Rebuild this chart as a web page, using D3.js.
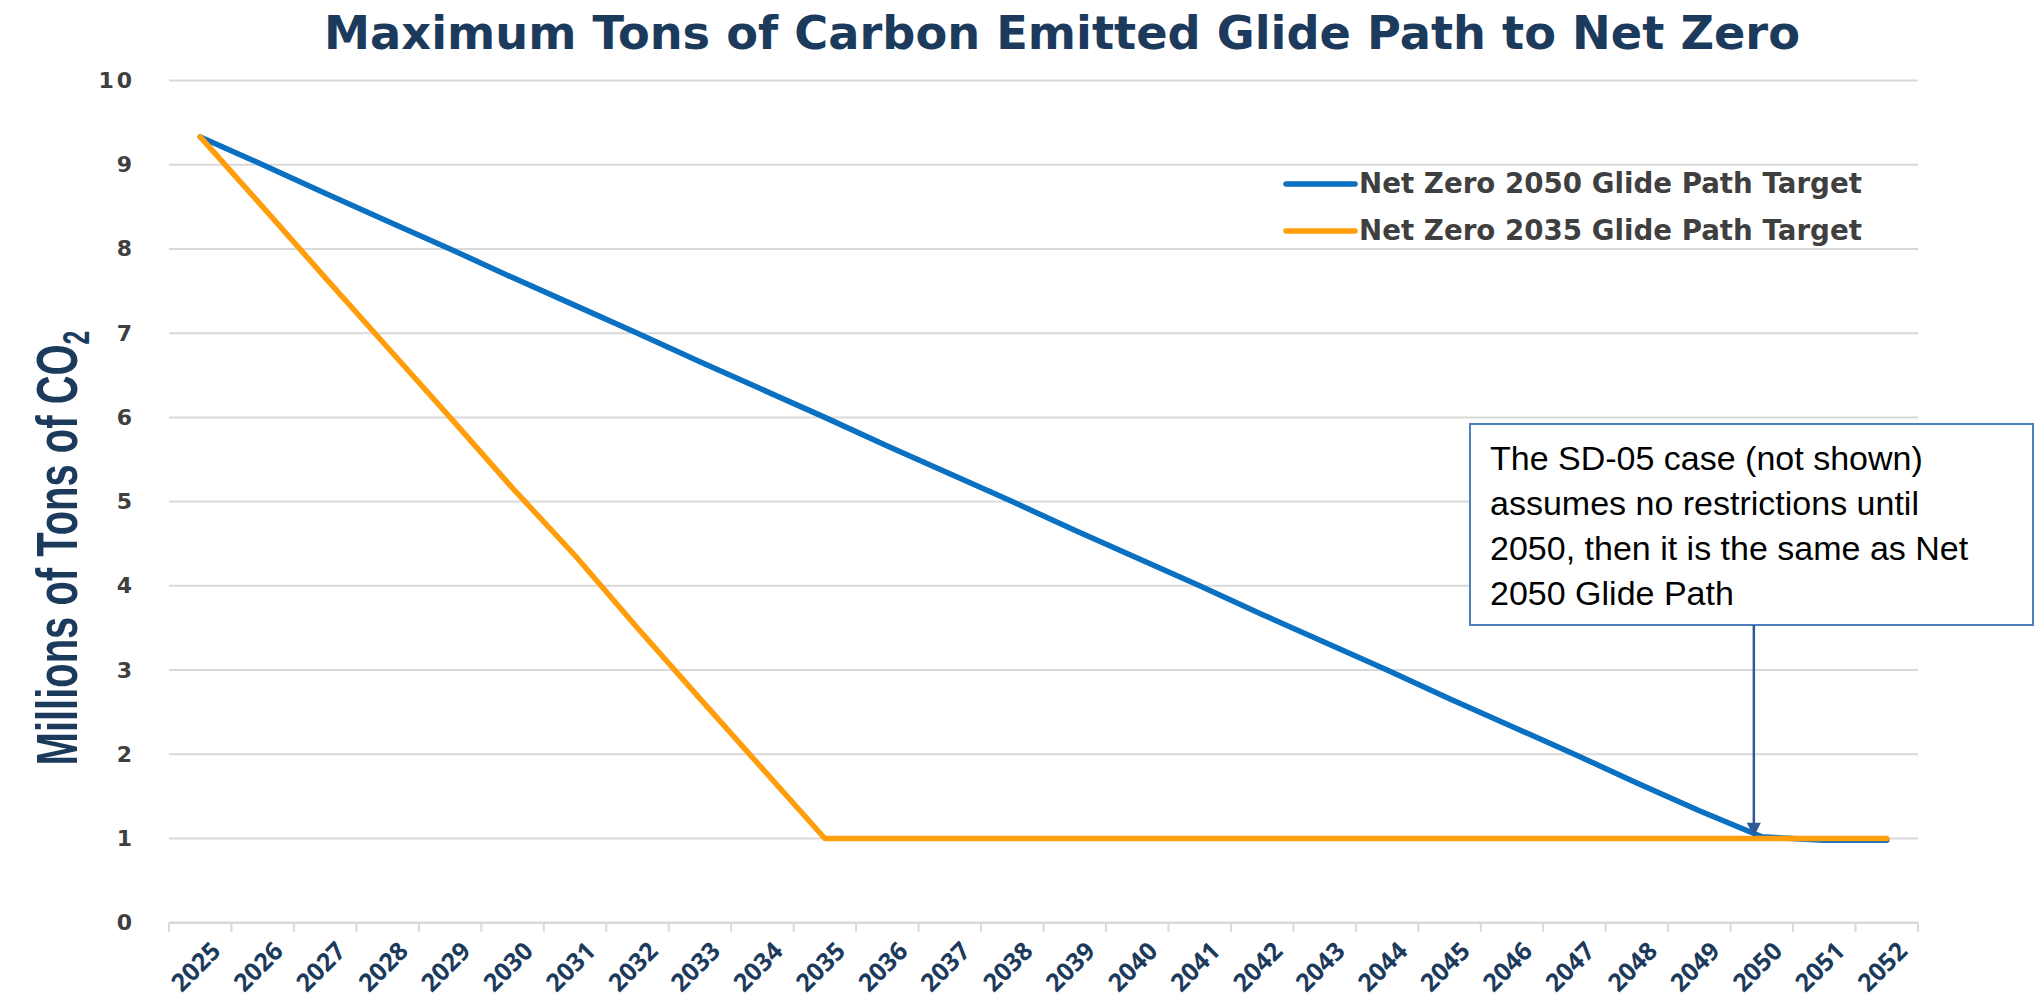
<!DOCTYPE html>
<html>
<head>
<meta charset="utf-8">
<script src="https://cdn.jsdelivr.net/npm/d3@7"></script>
<style>
  html, body { margin: 0; padding: 0; background: #fff; }
  svg { display: block; }
</style>
</head>
<body>
<svg id="chart" width="2035" height="1000"></svg>
<script>
// Years on the x axis
const years = ["2025","2026","2027","2028","2029","2030","2031","2032","2033","2034",
  "2035","2036","2037","2038","2039","2040","2041","2042","2043","2044",
  "2045","2046","2047","2048","2049","2050","2051","2052"];

// Millions of tons of CO2, per year
const netZero2050 = [9.33, 9.0, 8.66, 8.33, 8.0, 7.66, 7.33, 7.0, 6.66, 6.33,
  6.0, 5.66, 5.33, 5.0, 4.66, 4.33, 4.0, 3.66, 3.33, 3.0,
  2.66, 2.33, 2.0, 1.66, 1.33, 1.02, 0.98, 0.98];
const netZero2035 = [9.33, 8.5, 7.66, 6.83, 6.0, 5.16, 4.36, 3.5, 2.66, 1.83,
  1.0, 1.0, 1.0, 1.0, 1.0, 1.0, 1.0, 1.0, 1.0, 1.0,
  1.0, 1.0, 1.0, 1.0, 1.0, 1.0, 1.0, 1.0];

const yTicks = [0, 1, 2, 3, 4, 5, 6, 7, 8, 9, 10];

const seriesNames = ["Net Zero 2050 Glide Path Target", "Net Zero 2035 Glide Path Target"];
const seriesColors = ["#0a70c2", "#ff9e0a"];

const titleText = "Maximum Tons of Carbon Emitted Glide Path to Net Zero";
const noteLines = ["The SD-05 case (not shown)", "assumes no restrictions until",
  "2050, then it is the same as Net", "2050 Glide Path"];

const svg = d3.select("#chart");
const plot = { left: 169, right: 1918, top: 80.5, bottom: 922.7 };

const x = d3.scaleBand().domain(years).range([plot.left, plot.right]);
const y = d3.scaleLinear().domain([0, 10]).range([plot.bottom, plot.top]);

// Scale a text element's font size so it spans the given width
function fitWidth(sel, target) {
  const node = sel.node();
  const fs = parseFloat(sel.attr("font-size"));
  const w = node.getComputedTextLength();
  sel.attr("font-size", (fs * target / w).toFixed(2));
}

// Title
const title = svg.append("text")
  .attr("x", 1062).attr("y", 49)
  .attr("text-anchor", "middle")
  .attr("font-family", "DejaVu Sans, Verdana, sans-serif")
  .attr("font-weight", "bold")
  .attr("font-size", 40)
  .attr("fill", "#1c3a5c")
  .text(titleText);
fitWidth(title, 1476);

// Horizontal gridlines
svg.append("g")
  .selectAll("line")
  .data(yTicks.filter(d => d > 0))
  .join("line")
  .attr("x1", plot.left).attr("x2", plot.right)
  .attr("y1", d => y(d)).attr("y2", d => y(d))
  .attr("stroke", "#d9d9d9").attr("stroke-width", 2);

// Y axis labels
const yAxis = svg.append("g")
  .attr("transform", `translate(${plot.left},0)`)
  .call(d3.axisLeft(y).tickValues(yTicks).tickSize(0).tickPadding(34).tickFormat(d3.format("d")));
yAxis.select(".domain").remove();
yAxis.selectAll("text")
  .attr("font-family", "DejaVu Sans, Verdana, sans-serif")
  .attr("font-weight", "bold")
  .attr("font-size", 22)
  .attr("letter-spacing", 3)
  .attr("fill", "#3f3f3f");

// X axis with ticks on category boundaries
const xAxisG = svg.append("g").attr("transform", `translate(0,${plot.bottom})`);
xAxisG.append("line")
  .attr("x1", plot.left).attr("x2", plot.right)
  .attr("stroke", "#d9d9d9").attr("stroke-width", 2.5);
const boundaries = years.map(d => x(d)).concat([plot.right]);
xAxisG.selectAll("line.tick")
  .data(boundaries)
  .join("line")
  .attr("class", "tick")
  .attr("x1", d => d).attr("x2", d => d)
  .attr("y1", 0).attr("y2", 9)
  .attr("stroke", "#d9d9d9").attr("stroke-width", 2);
xAxisG.selectAll("text")
  .data(years)
  .join("text")
  .attr("transform", d => `translate(${x(d) + x.bandwidth() / 2 + 22},${30}) rotate(-45)`)
  .attr("text-anchor", "end")
  .attr("font-family", "Open Sans, sans-serif")
  .attr("font-weight", "bold")
  .attr("font-size", 25)
  .attr("fill", "#1c3a5c")
  .text(d => d);

// Y axis title, condensed along its length
const yTitle = svg.append("text")
  .attr("text-anchor", "middle")
  .attr("font-family", "Liberation Sans Narrow, Liberation Sans, sans-serif")
  .attr("font-weight", "bold")
  .attr("font-size", 58)
  .attr("fill", "#1c3a5c");
yTitle.append("tspan").text("Millions of Tons of CO");
yTitle.append("tspan").attr("font-size", 36).attr("dy", 12).text("2");
const yTitleLen = yTitle.node().getBBox().width;
const squeeze = 435 / yTitleLen;
yTitle.attr("transform", `translate(77,548) rotate(-90) scale(${squeeze.toFixed(3)},1)`);

// Series lines
const line = d3.line()
  .x((d, i) => x(years[i]) + x.bandwidth() / 2)
  .y(d => y(d));
[netZero2050, netZero2035].forEach((vals, i) => {
  svg.append("path")
    .datum(vals)
    .attr("d", line)
    .attr("fill", "none")
    .attr("stroke", seriesColors[i])
    .attr("stroke-width", 5.5)
    .attr("stroke-linejoin", "round")
    .attr("stroke-linecap", "round");
});

// Legend
const legend = svg.append("g");
seriesNames.forEach((name, i) => {
  const ly = 184 + i * 47;
  legend.append("line")
    .attr("x1", 1286).attr("x2", 1355)
    .attr("y1", ly).attr("y2", ly)
    .attr("stroke", seriesColors[i]).attr("stroke-width", 5.5)
    .attr("stroke-linecap", "round");
  const t = legend.append("text")
    .attr("x", 1359).attr("y", ly + 9)
    .attr("font-family", "DejaVu Sans, Verdana, sans-serif")
    .attr("font-weight", "bold")
    .attr("font-size", 22)
    .attr("fill", "#3f3f3f")
    .text(name);
  fitWidth(t, 503);
});

// Callout box with arrow to the 2050 point
const note = svg.append("g");
note.append("rect")
  .attr("x", 1470).attr("y", 424)
  .attr("width", 563).attr("height", 201)
  .attr("fill", "#fff")
  .attr("stroke", "#4f7fbf").attr("stroke-width", 2);
const noteText = note.append("text")
  .attr("font-family", "Liberation Sans, Arial, sans-serif")
  .attr("font-size", 34)
  .attr("fill", "#000");
noteLines.forEach((l, i) => {
  noteText.append("tspan").attr("x", 1490).attr("y", 470 + i * 45).text(l);
});

const ax = x("2050") + x.bandwidth() / 2 - 8;
const ay = y(netZero2050[years.indexOf("2050")]);
note.append("line")
  .attr("x1", ax).attr("x2", ax)
  .attr("y1", 625).attr("y2", ay - 12)
  .attr("stroke", "#2f5a94").attr("stroke-width", 2.5);
note.append("path")
  .attr("d", `M${ax - 7},${ay - 14} L${ax + 7},${ay - 14} L${ax},${ay} Z`)
  .attr("fill", "#2f5a94");
</script>
</body>
</html>
